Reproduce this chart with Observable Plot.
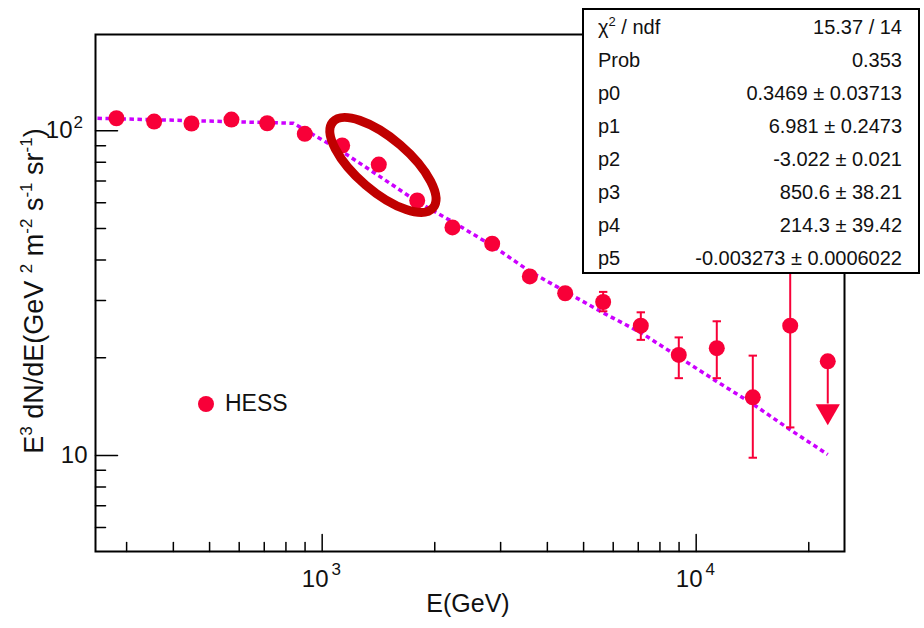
<!DOCTYPE html>
<html>
<head>
<meta charset="utf-8">
<script src="https://cdn.jsdelivr.net/npm/d3@7"></script>
<script src="https://cdn.jsdelivr.net/npm/@observablehq/plot@0.6"></script>
<style>
  html, body { margin: 0; padding: 0; background: #fff; }
  body { font-family: "Liberation Sans", Arial, sans-serif; }
  #wrap { position: relative; width: 924px; height: 628px; overflow: hidden; }
  #stats { position: absolute; left: 582px; top: 8px; width: 338px; height: 266px;
           box-sizing: border-box; border: 2px solid #000; background: #fff;
           padding: 0 16px 0 14px; font-size: 20px; color: #111; }
  #stats .row { display: flex; justify-content: space-between; height: 33.1px; line-height: 33.1px; }
  #stats .row:first-child { margin-top: 0.5px; }
  #stats sup { font-size: 13px; line-height: 0; vertical-align: 0; position: relative; top: -8px; }
  #legend { position: absolute; left: 198px; top: 390px; display: flex; align-items: center;
            font-size: 23px; color: #111; }
  #legend .dot { width: 16px; height: 16px; border-radius: 50%; background: #f80038; margin-right: 11px; }
</style>
</head>
<body>
<div id="wrap"></div>
<script>
// ---- data ----
const energy = [281.8, 355.4, 447.3, 572, 712.8, 898.5, 1131, 1417, 1795, 2230, 2848, 3591, 4464, 5640, 7111, 8984, 11352, 14170, 17840];
const flux   = [109.3, 106.8, 105.3, 108.3, 105.5, 97.9, 90.1, 78.7, 61.0, 50.4, 44.9, 35.6, 31.6, 29.7, 25.1, 20.4, 21.4, 15.1, 25.1];

const barEnergy = [5640, 7111, 8984, 11352, 14170, 17840];
const barLow    = [27.8, 22.7, 17.3, 17.3, 9.84, 12.2];
const barHigh   = [31.9, 27.6, 23.1, 25.9, 20.3, 38.0];

const limitEnergy = [22480];
const limitFlux   = [19.5];
const limitArrowEnd  = [14.4];
const limitArrowHead = [13.69];

const fitEnergy = [250.7, 472.7, 838, 897, 1119, 1414, 1776, 2203, 2848, 3591, 4464, 5640, 7111, 8984, 11352, 14170, 17840, 22480];
const fitFlux   = [109.3, 107.3, 105.5, 100.9, 87.0, 72.8, 61.0, 52.9, 44.3, 36.9, 32.0, 27.5, 23.9, 20.1, 16.9, 14.4, 12.0, 10.07];

const xMajorTicks = [1000, 10000];
const xMajorBase  = ["10", "10"];
const xMajorExp   = ["3", "4"];
const xMinorTicks = [300, 400, 500, 600, 700, 800, 900, 2000, 3000, 4000, 5000, 6000, 7000, 8000, 9000, 20000];
const yMajorTicks = [10, 100];
const yMajorBase  = ["10", "10"];
const yMajorExp   = ["", "2"];
const yMinorTicks = [6, 7, 8, 9, 20, 30, 40, 50, 60, 70, 80, 90];

const statLabels = ["χ<sup>2</sup> / ndf", "Prob", "p0", "p1", "p2", "p3", "p4", "p5"];
const statValues = ["15.37 / 14", "0.353", "0.3469 ± 0.03713", "6.981 ± 0.2473", "-3.022 ± 0.021",
                    "850.6 ± 38.21", "214.3 ± 39.42", "-0.003273 ± 0.0006022"];

const ellipseEnergy = 1458;
const ellipseFlux = 78.2;

// ---- tables ----
const points = energy.map((e, i) => ({e, f: flux[i]}));
const fit = fitEnergy.map((e, i) => ({e, f: fitFlux[i]}));
const bars = barEnergy.map((e, i) => ({e, lo: barLow[i], hi: barHigh[i]}));
const limits = limitEnergy.map((e, i) => ({e, f: limitFlux[i], end: limitArrowEnd[i], head: limitArrowHead[i]}));
const xMajor = xMajorTicks.map((v, i) => ({v, base: xMajorBase[i], exp: xMajorExp[i]}));
const yMajor = yMajorTicks.map((v, i) => ({v, base: yMajorBase[i], exp: yMajorExp[i]}));

const RED = "#f80038";
const tickShape = {draw(ctx, l) { ctx.moveTo(0, 0); ctx.lineTo(0, -l); }};
const capSymbol = {draw(ctx) { ctx.moveTo(-4.2, 0); ctx.lineTo(4.2, 0); }};

const ellipseMark = (index, scales) => {
  const ns = "http://www.w3.org/2000/svg";
  const g = document.createElementNS(ns, "g");
  const el = document.createElementNS(ns, "ellipse");
  el.setAttribute("cx", 0);
  el.setAttribute("cy", 0);
  el.setAttribute("rx", 66);
  el.setAttribute("ry", 26.5);
  el.setAttribute("fill", "none");
  el.setAttribute("stroke", "#c00000");
  el.setAttribute("stroke-width", 9);
  el.setAttribute("transform", `translate(${scales.x(ellipseEnergy)},${scales.y(ellipseFlux)}) rotate(40.6)`);
  g.appendChild(el);
  return g;
};

const chart = Plot.plot({
  width: 924, height: 628,
  marginLeft: 95, marginRight: 80, marginTop: 34, marginBottom: 77,
  style: {fontFamily: '"Liberation Sans", Arial, sans-serif', background: "white", overflow: "visible", color: "#111"},
  x: {type: "log", domain: [247.7, 24920], axis: null},
  y: {type: "log", domain: [5.06, 198], axis: null},
  marks: [
    // ticks (inward)
    Plot.vector(xMinorTicks, {x: d => d, frameAnchor: "bottom", length: 9, rotate: 0, anchor: "start", shape: tickShape, stroke: "black", strokeWidth: 1.5}),
    Plot.vector(xMajorTicks, {x: d => d, frameAnchor: "bottom", length: 17, rotate: 0, anchor: "start", shape: tickShape, stroke: "black", strokeWidth: 1.5}),
    Plot.vector(yMinorTicks, {y: d => d, frameAnchor: "left", length: 10, rotate: 90, anchor: "start", shape: tickShape, stroke: "black", strokeWidth: 1.5}),
    Plot.vector(yMajorTicks, {y: d => d, frameAnchor: "left", length: 22, rotate: 90, anchor: "start", shape: tickShape, stroke: "black", strokeWidth: 1.5}),
    // tick labels
    Plot.text(xMajor, {x: "v", text: "base", frameAnchor: "bottom", dy: 28, dx: -7, fontSize: 24, textAnchor: "middle", lineAnchor: "middle", fill: "#111"}),
    Plot.text(xMajor, {x: "v", text: "exp", frameAnchor: "bottom", dy: 18, dx: 14, fontSize: 17, textAnchor: "middle", lineAnchor: "middle", fill: "#111"}),
    Plot.text(yMajor.filter(d => !d.exp), {y: "v", text: "base", frameAnchor: "left", dx: -8, fontSize: 24, textAnchor: "end", lineAnchor: "middle", fill: "#111"}),
    Plot.text(yMajor.filter(d => d.exp), {y: "v", text: "base", frameAnchor: "left", dx: -23, fontSize: 24, textAnchor: "end", lineAnchor: "middle", fill: "#111"}),
    Plot.text(yMajor.filter(d => d.exp), {y: "v", text: "exp", frameAnchor: "left", dx: -22, dy: -8, fontSize: 17, textAnchor: "start", lineAnchor: "middle", fill: "#111"}),
    // x title
    Plot.text(["E(GeV)"], {frameAnchor: "bottom", dx: -2, dy: 52, fontSize: 25, textAnchor: "middle", lineAnchor: "middle", fill: "#111"}),
    // fit
    Plot.line(fit, {x: "e", y: "f", stroke: "#cc00ff", strokeWidth: 3.5, strokeDasharray: "4.5,3.5", strokeLinecap: "butt", strokeLinejoin: "round"}),
    // error bars
    Plot.ruleX(bars, {x: "e", y1: "lo", y2: "hi", stroke: RED, strokeWidth: 2}),
    Plot.dot(bars, {x: "e", y: "lo", symbol: capSymbol, stroke: RED, strokeWidth: 2, r: 4}),
    Plot.dot(bars, {x: "e", y: "hi", symbol: capSymbol, stroke: RED, strokeWidth: 2, r: 4}),
    // upper limit
    Plot.ruleX(limits, {x: "e", y1: "f", y2: "end", stroke: RED, strokeWidth: 2}),
    Plot.dot(limits, {x: "e", y: "head", symbol: "triangle", rotate: 180, r: 9, fill: RED, stroke: null}),
    // points
    Plot.dot(points, {x: "e", y: "f", r: 8, fill: RED, stroke: null}),
    Plot.dot(limits, {x: "e", y: "f", r: 8, fill: RED, stroke: null}),
    // annotation ellipse
    ellipseMark,
    Plot.frame({stroke: "black", strokeWidth: 2})
  ]
});

// y title with superscripts
const svg = d3.select(chart);
const yt = svg.append("text")
  .attr("transform", "translate(43,291) rotate(-90)")
  .attr("text-anchor", "middle")
  .attr("font-size", 27)
  .attr("fill", "#111");
const parts = [["E", false], ["3", true], [" dN/dE(GeV ", false], ["2", true], [" m", false], ["-2", true], [" s", false], ["-1", true], [" sr", false], ["-1", true], [")", false]];
parts.forEach(([t, sup]) => {
  const ts = yt.append("tspan").text(t);
  if (sup) ts.attr("font-size", 17).attr("baseline-shift", "65%");
});

const wrap = document.getElementById("wrap");
wrap.appendChild(chart);

// legend
const legend = document.createElement("div");
legend.id = "legend";
legend.innerHTML = '<span class="dot"></span><span>HESS</span>';
wrap.appendChild(legend);

// stats box
const stats = document.createElement("div");
stats.id = "stats";
stats.innerHTML = statLabels.map((l, i) => `<div class="row"><span>${l}</span><span>${statValues[i]}</span></div>`).join("");
wrap.appendChild(stats);
</script>
</body>
</html>
